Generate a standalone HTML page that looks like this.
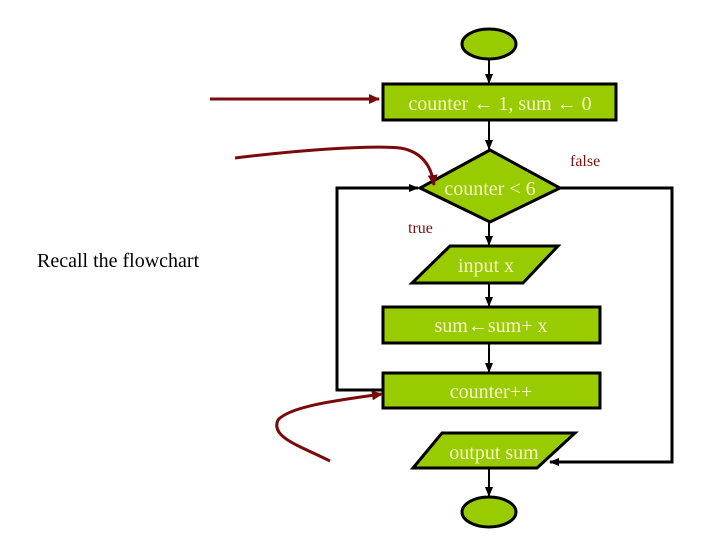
<!DOCTYPE html>
<html><head><style>
html,body{margin:0;padding:0;background:#fff;width:720px;height:540px;overflow:hidden}
svg{display:block}
text{font-family:"Liberation Serif",serif}
</style></head><body>
<svg width="720" height="540" viewBox="0 0 720 540">
<defs>
<marker id="a" markerWidth="10" markerHeight="10" refX="9" refY="5" orient="auto" markerUnits="userSpaceOnUse"><path d="M0,1 L10,5 L0,9 Z" fill="#000"/></marker>
<marker id="r" markerWidth="12" markerHeight="12" refX="10" refY="6" orient="auto" markerUnits="userSpaceOnUse"><path d="M0,1 L11,6 L0,11 Z" fill="#7a0a0a"/></marker>
</defs>
<g stroke="#000" stroke-width="3" fill="#99cc00">
<ellipse cx="489" cy="44" rx="27" ry="15"/>
<rect x="383" y="84" width="233" height="36"/>
<polygon points="490,150 560,188 490,222 420,188"/>
<polygon points="450,246 558,246 523,283 412,283"/>
<rect x="383" y="307" width="217" height="36"/>
<rect x="383" y="373" width="217" height="35"/>
<polygon points="442,433 575,433 537,468 413,468"/>
<ellipse cx="489" cy="512" rx="27" ry="15"/>
</g>
<g stroke="#000" stroke-width="2" fill="none">
<line x1="489" y1="59" x2="489" y2="83" marker-end="url(#a)"/>
<line x1="489" y1="120" x2="489" y2="149" marker-end="url(#a)"/>
<line x1="489" y1="222" x2="489" y2="245" marker-end="url(#a)"/>
<line x1="489" y1="283" x2="489" y2="306" marker-end="url(#a)"/>
<line x1="489" y1="343" x2="489" y2="372" marker-end="url(#a)"/>
<line x1="489" y1="468" x2="489" y2="496" marker-end="url(#a)"/>
</g>
<g stroke="#000" stroke-width="3" fill="none">
<polyline points="383,390 337,390 337,188 418,188" marker-end="url(#a)"/>
<polyline points="560,188 672,188 672,462 550,462" marker-end="url(#a)"/>
</g>
<g stroke="#7a0a0a" stroke-width="3" fill="none">
<line x1="210" y1="99" x2="379" y2="99" marker-end="url(#r)"/>
<path d="M235,158 C300,150 370,145 400,148 C425,152 432,170 434,185" marker-end="url(#r)"/>
<path d="M330,461 C300,446 270,437 278,420 C290,406 340,400 382,394" marker-end="url(#r)"/>
</g>
<g fill="#f5f5c8" font-size="20" text-anchor="middle">
<text x="500" y="110">counter ← 1, sum ← 0</text>
<text x="490" y="195">counter &lt; 6</text>
<text x="486" y="272">input x</text>
<text x="491" y="332">sum←sum+ x</text>
<text x="491" y="398">counter++</text>
<text x="494" y="459">output sum</text>
</g>
<g fill="#7a1010" font-size="16">
<text x="570" y="166">false</text>
<text x="408" y="233">true</text>
</g>
<text x="37" y="267" font-size="20" fill="#000">Recall the flowchart</text>
</svg>
</body></html>
